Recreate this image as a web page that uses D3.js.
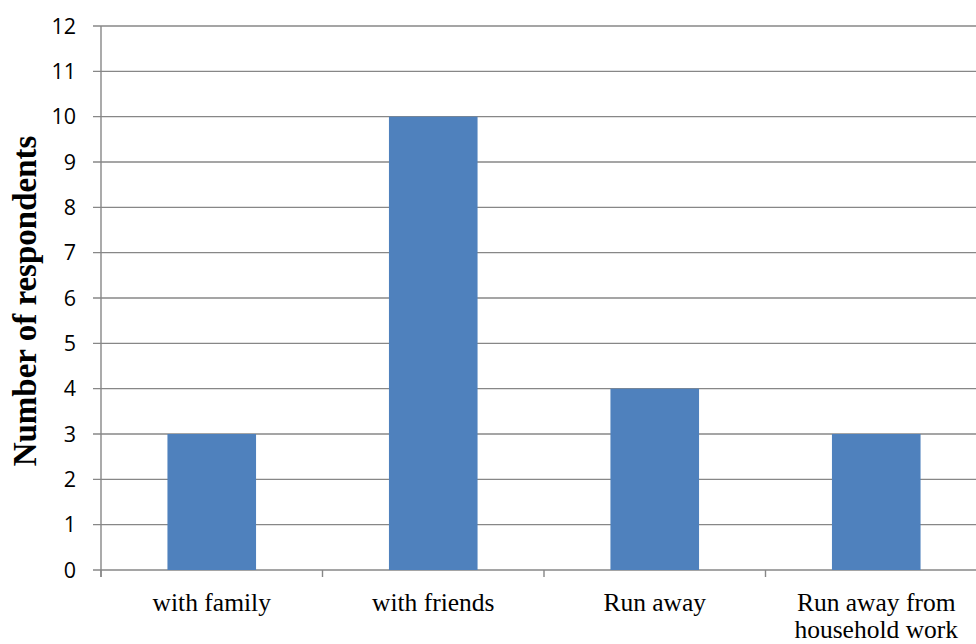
<!DOCTYPE html>
<html><head><meta charset="utf-8">
<script src="https://cdn.jsdelivr.net/npm/d3@7"></script>
<style>html,body{margin:0;padding:0;background:#fff;overflow:hidden}</style>
</head><body>
<svg id="c" width="976" height="644"></svg>
<script>
const categories = [["with family"], ["with friends"], ["Run away"], ["Run away from", "household work"]];
const values = [3, 10, 4, 3];
const yTicks = [0,1,2,3,4,5,6,7,8,9,10,11,12];
const yTitle = "Number of respondents";

(function(){
const svg = d3.select("#c");
const pL = 101, pR = 987, pT = 26, pB = 570;
const x = d3.scaleBand().domain(d3.range(categories.length)).range([pL, pR]).padding(0);
const y = d3.scaleLinear().domain([0, 12]).range([pB, pT]);
const grid = "#878787";

svg.append("g").selectAll("line").data(yTicks).join("line")
  .attr("x1", pL - 8).attr("x2", 976)
  .attr("y1", d => y(d)).attr("y2", d => y(d))
  .attr("stroke", grid).attr("stroke-width", 1.4);

const bw = x.bandwidth() * 0.4;
svg.append("g").selectAll("rect").data(values).join("rect")
  .attr("x", (d, i) => x(i) + x.bandwidth() / 2 - bw / 2)
  .attr("width", bw)
  .attr("y", d => y(d))
  .attr("height", d => y(0) - y(d))
  .attr("fill", "#4f81bd");

svg.append("line").attr("x1", pL).attr("x2", pL).attr("y1", pT).attr("y2", pB + 7)
  .attr("stroke", grid).attr("stroke-width", 1.4);

const xt = d3.range(categories.length + 1).map(i => i < categories.length ? x(i) : pR);
svg.append("g").selectAll("line").data(xt).join("line")
  .attr("x1", d => d).attr("x2", d => d).attr("y1", pB).attr("y2", pB + 7)
  .attr("stroke", grid).attr("stroke-width", 1.4);

svg.append("g").selectAll("text").data(yTicks).join("text")
  .attr("x", 76).attr("y", d => y(d)).attr("dy", "0.36em")
  .attr("text-anchor", "end")
  .style("font-family", "'Open Sans', sans-serif").style("font-size", "21.5px").attr("fill", "#000")
  .text(d => d);

const xl = svg.append("g");
categories.forEach((lines, i) => {
  const t = xl.append("text").attr("text-anchor", "middle")
    .style("font-family", "'Liberation Serif', serif").style("font-size", "25.5px").attr("fill", "#000");
  lines.forEach((ln, j) => t.append("tspan").attr("x", x(i) + x.bandwidth() / 2).attr("y", 611 + j * 27).text(ln));
});

svg.append("text").attr("transform", "translate(36,301) rotate(-90)")
  .attr("text-anchor", "middle")
  .style("font-family", "'Liberation Serif', serif").style("font-size", "33px").style("font-weight", "bold")
  .attr("fill", "#000").text(yTitle);
})();
</script>
</body></html>
